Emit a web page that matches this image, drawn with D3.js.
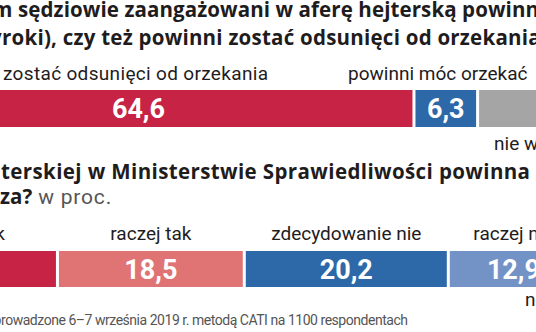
<!DOCTYPE html>
<html>
<head>
<meta charset="utf-8">
<script src="https://cdn.jsdelivr.net/npm/d3@7"></script>
<style>
  html, body { margin: 0; padding: 0; background: #ffffff; overflow: hidden; }
  svg { display: block; }
</style>
</head>
<body>
<div id="chart"></div>
<script>
// ---------- data ----------
const title1Lines = [
  "Czy Pana/Pani zdaniem sędziowie zaangażowani w aferę hejterską powinni móc nadal orzekać",
  "(wydawać wyroki), czy też powinni zostać odsunięci od orzekania?"
];
const bar1Categories = ["powinni zostać odsunięci od orzekania", "powinni móc orzekać", "nie wiem"];
const bar1Values = [64.6, 6.3, 29.1];
const bar1Colors = ["#c72344", "#2d69a8", "#a5a5a5"];

const title2Line1 = "w sprawie afery hejterskiej w Ministerstwie Sprawiedliwości powinna";
const title2Line2Bold = "za?";
const title2Unit = " w proc.";
const bar2Categories = ["zdecydowanie tak", "raczej tak", "zdecydowanie nie", "raczej nie", "nie wiem"];
const bar2Values = [29.3, 18.5, 20.2, 12.9, 19.1];
const bar2Colors = ["#c72344", "#e07475", "#2d69a8", "#7393c6", "#a5a5a5"];

const footerText = "Badanie przeprowadzone 6–7 września 2019 r. metodą CATI na 1100 respondentach";

// ---------- setup ----------
const W = 536, H = 332;
const svg = d3.select("#chart").append("svg").attr("width", W).attr("height", H);

const x = d3.scaleLinear().domain([0, 100]).range([-240, 770]);
const fmt = v => d3.format(".1f")(v).replace(".", ",");
const GAP = 3;

function stack(values) {
  let c = 0;
  return values.map((v, i) => { const s = c; c += v; return { i, v, start: s, end: c }; });
}

// place text so that char startIdx begins at startX; optionally stretch so char endIdx ends at endX
function fit(sel, str, startIdx, startX, endIdx, endX) {
  sel.text(str).attr("x", 0).style("letter-spacing", "0px");
  const node = sel.node();
  if (endIdx != null) {
    const s = node.getStartPositionOfChar(startIdx).x;
    const e = node.getEndPositionOfChar(endIdx).x;
    let ls = (endX - startX - (e - s)) / (endIdx - startIdx);
    ls = Math.max(-1.5, Math.min(2, ls));
    sel.style("letter-spacing", ls + "px");
  }
  const s2 = node.getStartPositionOfChar(startIdx).x;
  sel.attr("x", startX - s2);
  return sel;
}

const TITLE_FONT = "'Open Sans', 'Noto Sans', sans-serif";
const LABEL_FONT = "Roboto, 'Noto Sans', sans-serif";
const INK = "#1f1c1d";

// ---------- title 1 ----------
const t1a = svg.append("text").attr("y", 17)
  .attr("font-family", TITLE_FONT).attr("font-weight", 700).attr("font-size", 20.5).attr("fill", INK);
fit(t1a, title1Lines[0], title1Lines[0].indexOf("sędziowie"), 18,
    title1Lines[0].indexOf("powinni") + 5, 539);

const t1b = svg.append("text").attr("y", 45)
  .attr("font-family", TITLE_FONT).attr("font-weight", 700).attr("font-size", 20.5).attr("fill", INK);
fit(t1b, title1Lines[1], title1Lines[1].indexOf("roki"), 2,
    title1Lines[1].lastIndexOf("orzekani") + 7, 528);

// ---------- bar 1 ----------
const b1 = stack(bar1Values);
const bar1Y = 90, bar1H = 37;
svg.append("g").selectAll("rect").data(b1).join("rect")
  .attr("x", d => x(d.start) + (d.i ? GAP : 0))
  .attr("width", d => x(d.end) - x(d.start) - (d.i ? GAP : 0))
  .attr("y", bar1Y).attr("height", bar1H)
  .attr("fill", d => bar1Colors[d.i]);

// category labels bar 1
const l10 = svg.append("text").attr("y", 80)
  .attr("font-family", LABEL_FONT).attr("font-size", 19).attr("fill", INK);
fit(l10, bar1Categories[0], bar1Categories[0].indexOf("zostać"), 3,
    bar1Categories[0].length - 1, 268);

svg.append("text").attr("y", 80)
  .attr("x", (x(b1[1].start) + GAP + x(b1[1].end)) / 2 - 8)
  .attr("text-anchor", "middle")
  .attr("font-family", LABEL_FONT).attr("font-size", 19).attr("fill", INK)
  .text(bar1Categories[1]);

svg.append("text").attr("y", 150)
  .attr("x", x(b1[2].start) + GAP + 15)
  .attr("font-family", LABEL_FONT).attr("font-size", 19).attr("fill", INK)
  .text(bar1Categories[2]);

// values bar 1
svg.append("g").selectAll("text").data(b1).join("text")
  .attr("x", d => d.i === 0 ? x(d.end) - 274 : (x(d.start) + GAP + x(d.end)) / 2)
  .attr("y", bar1Y + bar1H / 2 + 9.5)
  .attr("text-anchor", "middle")
  .attr("font-family", LABEL_FONT).attr("font-weight", 700).attr("font-size", 27)
  .attr("fill", "#ffffff")
  .text(d => fmt(d.v));

// ---------- title 2 ----------
const t2a = svg.append("text").attr("y", 179)
  .attr("font-family", TITLE_FONT).attr("font-weight", 700).attr("font-size", 20.5).attr("fill", INK);
fit(t2a, title2Line1, title2Line1.indexOf("terskiej"), 1, title2Line1.length - 1, 530);

const t2b = svg.append("text").attr("y", 204).attr("x", 0)
  .attr("font-family", TITLE_FONT).attr("font-size", 20.5);
t2b.append("tspan").attr("font-weight", 700).attr("fill", INK).text(title2Line2Bold);
t2b.append("tspan").attr("font-family", LABEL_FONT).attr("font-weight", 400).attr("font-size", 21)
  .attr("fill", "#555555").style("letter-spacing", "0.8px").text(title2Unit);

// ---------- bar 2 ----------
const b2 = stack(bar2Values);
const bar2Y = 251, bar2H = 36;
svg.append("g").selectAll("rect").data(b2).join("rect")
  .attr("x", d => x(d.start) + (d.i ? GAP : 0))
  .attr("width", d => x(d.end) - x(d.start) - (d.i ? GAP : 0))
  .attr("y", bar2Y).attr("height", bar2H)
  .attr("fill", d => bar2Colors[d.i]);

// category labels bar 2
svg.append("text").attr("y", 240).attr("x", 5).attr("text-anchor", "end")
  .attr("font-family", LABEL_FONT).attr("font-size", 19).attr("fill", INK)
  .text(bar2Categories[0]);

svg.append("g").selectAll("text").data(b2.slice(1, 4)).join("text")
  .attr("x", d => (x(d.start) + GAP + x(d.end)) / 2)
  .attr("y", 240)
  .attr("text-anchor", "middle")
  .attr("font-family", LABEL_FONT).attr("font-size", 19).attr("fill", INK)
  .text(d => bar2Categories[d.i]);

svg.append("text").attr("y", 306)
  .attr("x", x(b2[4].start) - 52)
  .attr("font-family", LABEL_FONT).attr("font-size", 19).attr("fill", INK)
  .text(bar2Categories[4]);

// values bar 2
svg.append("g").selectAll("text").data(b2).join("text")
  .attr("x", d => (x(d.start) + (d.i ? GAP : 0) + x(d.end)) / 2)
  .attr("y", bar2Y + bar2H / 2 + 9.5)
  .attr("text-anchor", "middle")
  .attr("font-family", LABEL_FONT).attr("font-weight", 700).attr("font-size", 27)
  .attr("fill", "#ffffff")
  .text(d => fmt(d.v));

// ---------- footer ----------
const ft = svg.append("text").attr("y", 325)
  .attr("font-family", LABEL_FONT).attr("font-size", 14).attr("fill", "#555555");
fit(ft, footerText, footerText.indexOf("rowadzone"), 1, footerText.length - 1, 408);
</script>
</body>
</html>
